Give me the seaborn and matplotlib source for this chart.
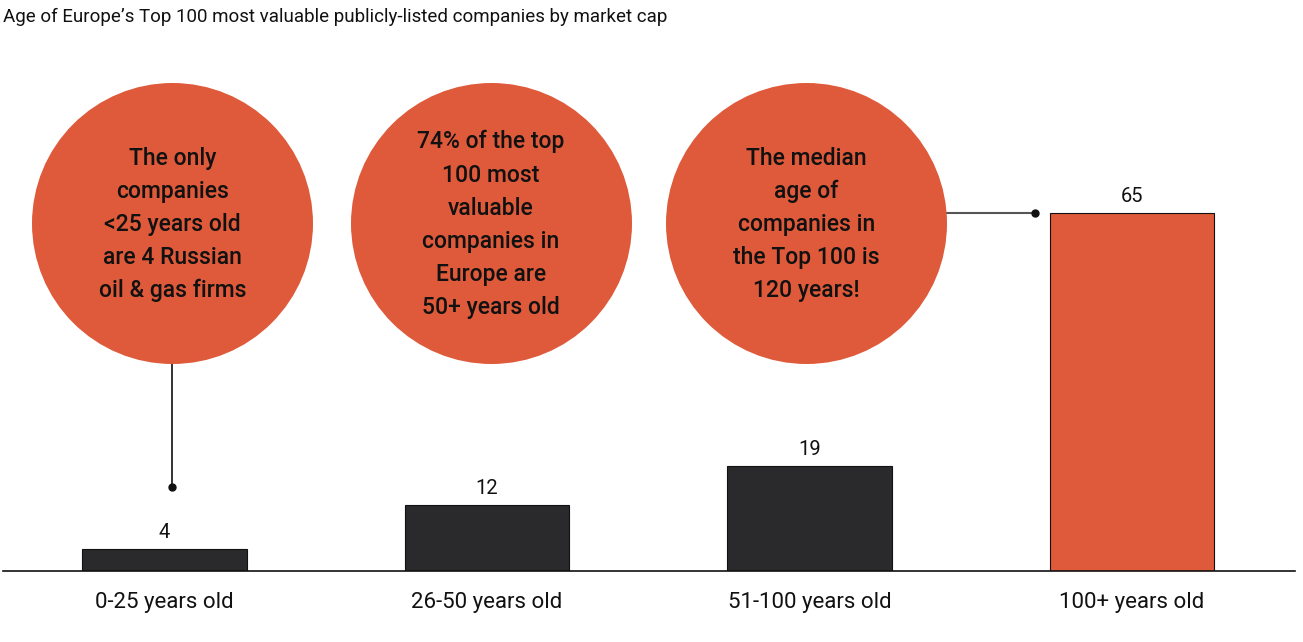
import matplotlib
matplotlib.use("Agg")
import matplotlib.pyplot as plt
import seaborn as sns
import pandas as pd

categories = ["0-25 years old", "26-50 years old", "51-100 years old", "100+ years old"]
values = [4, 12, 19, 65]
bar_colors = ["#2A2A2C", "#2A2A2C", "#2A2A2C", "#DF5A3A"]
title = "Age of Europe\u2019s Top 100 most valuable publicly-listed companies by market cap"
bubble_texts = [
    "The only\ncompanies\n<25 years old\nare 4 Russian\noil & gas firms",
    "74% of the top\n100 most\nvaluable\ncompanies in\nEurope are\n50+ years old",
    "The median\nage of\ncompanies in\nthe Top 100 is\n120 years!",
]

ORANGE = "#DF5A3A"

sns.set_theme(style="white")
plt.rcParams["font.family"] = ["Roboto", "DejaVu Sans"]

fig = plt.figure(figsize=(13.03, 6.42), dpi=100)
ax = fig.add_axes([3 / 1303, 71 / 642, 1292 / 1303, 531 / 642])

df = pd.DataFrame({"cat": categories, "val": values})
sns.barplot(data=df, x="cat", y="val", hue="cat", palette=bar_colors,
            legend=False, width=0.51, edgecolor="#111111", linewidth=0.8,
            saturation=1, ax=ax)

ax.set_xlim(-0.5, 3.505)
ax.set_ylim(0, 96.4)
ax.set_xlabel("")
ax.set_ylabel("")
ax.set_yticks([])
for s in ["top", "right", "left"]:
    ax.spines[s].set_visible(False)
ax.spines["bottom"].set_color("#111111")
ax.spines["bottom"].set_linewidth(1.2)
ax.tick_params(axis="x", length=0, pad=15, labelsize=16, labelcolor="#111111")

# value labels
for i, v in enumerate(values):
    ax.annotate(str(v), (i, v), xytext=(0, 5), textcoords="offset points",
                ha="center", va="bottom", fontsize=14.5, color="#111111")

# bubbles
bubble_x = [0.025, 1.013, 1.99]
bubble_y = 63.2
radius_px = 140.5
diam_pt = 2 * radius_px * 72 / fig.dpi
ax.scatter(bubble_x, [bubble_y] * 3, s=diam_pt ** 2, color=ORANGE,
           linewidths=0, clip_on=False, zorder=3)
for bx, t in zip(bubble_x, bubble_texts):
    ax.text(bx, bubble_y - 0.3, t, ha="center", va="center", fontsize=16.5,
            fontweight="medium", color="#111111", linespacing=1.56, zorder=4)

# connectors
ax.plot([0.025, 0.025], [bubble_y - 25.5, 15.3], color="#111111", lw=1.2, zorder=2)
ax.plot([0.025], [15.3], "o", color="#111111", ms=5, zorder=2)
ax.plot([1.99 + 0.42, 2.70], [65, 65], color="#555555", lw=1.5, zorder=2)
ax.plot([2.70], [65], "o", color="#111111", ms=5, zorder=2)

fig.text(3 / 1303, 1 - 17 / 642, title, ha="left", va="center", fontsize=13.5,
         color="#111111")

fig.savefig("out.png", dpi=100)
